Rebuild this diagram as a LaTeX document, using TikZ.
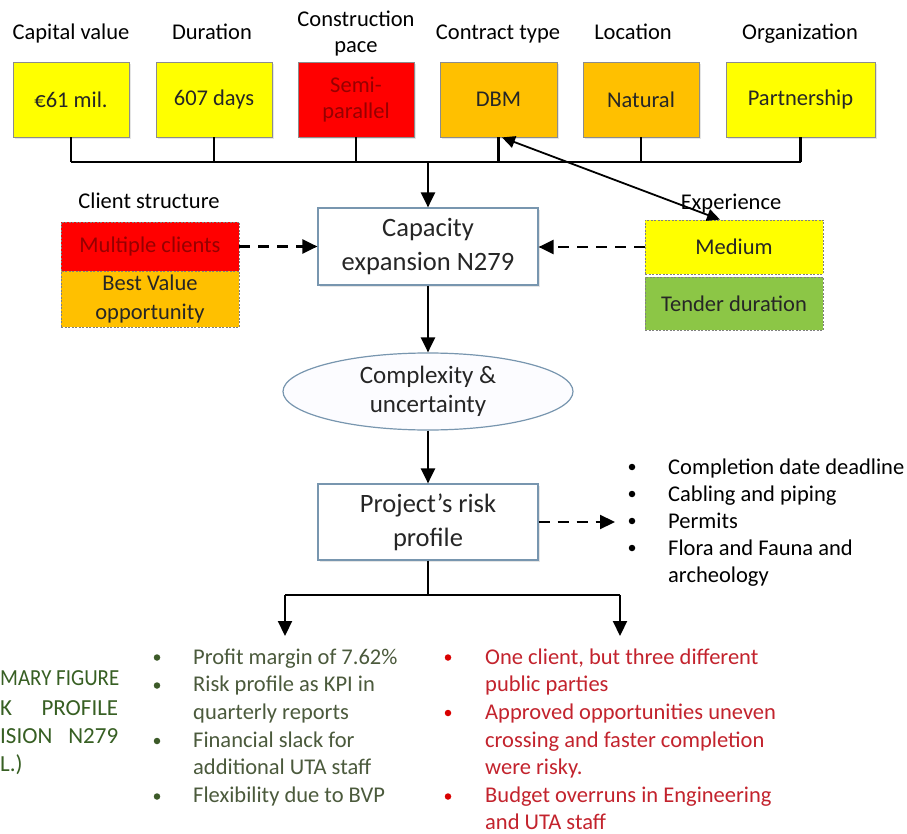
\documentclass[tikz,border=0pt]{standalone}
\usepackage{fontspec}
\setmainfont{Carlito}
\usetikzlibrary{arrows.meta,shapes.geometric,shadows}
\definecolor{cyel}{RGB}{255,255,0}
\definecolor{cred}{RGB}{255,0,0}
\definecolor{corg}{RGB}{255,192,0}
\definecolor{cgrn}{RGB}{140,198,70}
\definecolor{cblu}{RGB}{120,150,175}
\definecolor{cdred}{RGB}{150,0,0}
\definecolor{ltxt}{RGB}{75,90,60}
\definecolor{lbul}{RGB}{60,90,40}
\definecolor{rtxt}{RGB}{195,35,45}
\definecolor{ftxt}{RGB}{55,95,35}
\begin{document}
\begin{tikzpicture}[x=1pt,y=-1pt,
  shad/.style={drop shadow={shadow xshift=2pt,shadow yshift=-2pt,opacity=0.2}},
  tbox/.style={draw=black!45, line width=0.8pt, minimum width=116pt, minimum height=75pt,
    inner sep=0pt, align=center, font=\fontsize{22.5}{26}\selectfont, text=black!85, shad},
  lab/.style={font=\fontsize{22.5}{26}\selectfont, inner sep=0pt, anchor=base},
  mbox/.style={draw=cblu, line width=1.2pt, fill=white, minimum width=220pt, minimum height=77pt,
    inner sep=0pt, align=center, font=\fontsize{26.5}{34}\selectfont, text=black!85, shad},
  ell/.style={ellipse, draw=cblu, line width=1.2pt, fill=blue!1, minimum width=290pt, minimum height=77pt,
    inner sep=0pt, align=center, font=\fontsize{25}{29.5}\selectfont, text=black!85},
  dbox/.style={draw=black!50, dash pattern=on 2pt off 1.5pt, line width=0.8pt, minimum width=178pt,
    inner sep=0pt, align=center, font=\fontsize{22.5}{29}\selectfont, text=black!85},
  conn/.style={line width=2.2pt},
  arr/.style={line width=2.2pt, -{Triangle[length=15pt,width=14pt]}},
  darr/.style={arr, dash pattern=on 11pt off 8pt},
  dblarr/.style={line width=1.8pt, {Triangle[length=13pt,width=12pt]}-{Triangle[length=13pt,width=12pt]}},
  bul/.style={circle, inner sep=0pt, minimum size=6.5pt},
  ltx/.style={font=\fontsize{22.5}{27}\selectfont, inner sep=0pt, anchor=base west}
]
\fill[white] (0,0) rectangle (907,834);
\useasboundingbox (0,0) rectangle (907,834);

% top labels
\node[lab] (l1) at (71,40) {Capital value};
\node[lab] (l2) at (212,40) {Duration};
\node[lab] (l3a) at (356,27) {Construction};
\node[lab] (l3b) at (356,53) {pace};
\node[lab] (l4) at (498,40) {Contract type};
\node[lab] (l5) at (633,40) {Location};
\node[lab] (l6) at (800,40) {Organization};

% top boxes
\node[tbox, fill=cyel] (b1) at (71,99.5) {€61 mil.};
\node[tbox, fill=cyel] (b2) at (214,99.5) {607 days};
\node[tbox, fill=cred, text=cdred] (b3) at (356,99.5) {Semi-\\parallel};
\node[tbox, fill=corg, minimum width=117pt] (b4) at (498.5,99.5) {DBM};
\node[tbox, fill=corg] (b5) at (641,99.5) {Natural};
\node[tbox, fill=cyel, minimum width=149pt] (b6) at (800.5,99.5) {Partnership};

\coordinate (busL) at (71,162);
\foreach \b in {b1,b2,b3,b4,b5,b6} \draw[conn] (\b.south) -- (\b.south |- busL);
\draw[conn] (b1.south |- busL) -- (b6.south |- busL);

% capacity
\node[mbox] (cap) at (428,246.5) {Capacity\\expansion N279};
\draw[arr] (cap.north |- busL) -- (cap.north);

% client structure
\node[lab] (cs) at (149,209) {Client structure};
\node[dbox, fill=cred, text=cdred, minimum height=49pt] (mc) at (150,246.5) {Multiple clients};
\node[dbox, fill=corg, minimum height=56pt] (bv) at (150,299) {Best Value\\opportunity};
\draw[darr] (mc.east) -- (cap.west);

% experience
\node[dbox, fill=cyel, minimum height=54pt] (med) at (734,247) {Medium};
\node[dbox, fill=cgrn, minimum height=53pt] (td) at (734,303.5) {Tender duration};
\node[lab] (ex) at (731,210) {Experience};
\draw[darr] (med.west) -- (cap.east |- med.west);
\draw[dblarr] ([xshift=3.5pt]b4.south) -- ([xshift=-14pt]med.north);

% complexity
\node[ell] (cx) at (428,391.5) {Complexity \&\\uncertainty};
\draw[arr] (cap.south) -- (cx.north);

% risk profile
\node[mbox, minimum height=76pt] (rp) at (428,522) {Project’s risk\\profile};
\draw[arr] (cx.south) -- (rp.north);
\coordinate (rpt) at (615,522);
\draw[darr] (rp.east) -- (rpt);

% right list
\foreach \n/\yy in {1/467,2/494,3/521,4/548} \node[bul, fill=black] (rb\n) at (632,\yy) {};
\node[ltx] (rt1) at (668,474) {Completion date deadline};
\node[ltx] (rt2) at (668,501) {Cabling and piping};
\node[ltx] (rt3) at (668,528) {Permits};
\node[ltx] (rt4) at (668,555) {Flora and Fauna and};
\node[ltx] (rt5) at (668,582) {archeology};

% branches
\coordinate (sp) at (428,595);
\coordinate (bl) at (285,595);
\coordinate (br) at (620,595);
\coordinate (blt) at (285,636);
\coordinate (brt) at (620,636);
\draw[conn] (rp.south) -- (sp);
\draw[conn] (bl) -- (br);
\draw[arr] (bl) -- (blt);
\draw[arr] (br) -- (brt);

% green list
\foreach \n/\yy in {1/657.5,2/685.5,3/741,4/796.5} \node[bul, fill=lbul] (gb\n) at (157,\yy) {};
\node[ltx, text=ltxt] (gt1) at (193,664) {Profit margin of 7.62\%};
\node[ltx, text=ltxt] (gt2) at (193,691.7) {Risk profile as KPI in};
\node[ltx, text=ltxt] (gt3) at (193,719.4) {quarterly reports};
\node[ltx, text=ltxt] (gt4) at (193,747.1) {Financial slack for};
\node[ltx, text=ltxt] (gt5) at (193,774.8) {additional UTA staff};
\node[ltx, text=ltxt] (gt6) at (193,802.5) {Flexibility due to BVP};

% red list
\foreach \n/\yy in {1/657.5,2/713,3/796.5} \node[bul, fill=red!85!black] (kb\n) at (448,\yy) {};
\node[ltx, text=rtxt] (kt1) at (485,664) {One client, but three different};
\node[ltx, text=rtxt] (kt2) at (485,691.7) {public parties};
\node[ltx, text=rtxt] (kt3) at (485,719.4) {Approved opportunities uneven};
\node[ltx, text=rtxt] (kt4) at (485,747.1) {crossing and faster completion};
\node[ltx, text=rtxt] (kt5) at (485,774.8) {were risky.};
\node[ltx, text=rtxt] (kt6) at (485,802.5) {Budget overruns in Engineering};
\node[ltx, text=rtxt] (kt7) at (485,829) {and UTA staff};

% cut caption at left
\node[ltx, text=ftxt, font=\fontsize{23}{27}\selectfont] (c1) at (0,685) {\hbox to 118pt{\hfill\scalebox{0.91}[1]{MARY FIGURE}}};
\node[ltx, text=ftxt, font=\fontsize{23}{27}\selectfont] (c2) at (0,715) {\hbox to 118pt{K\hfill PROFILE}};
\node[ltx, text=ftxt, font=\fontsize{23}{27}\selectfont] (c3) at (0,743) {\hbox to 118pt{ISION\hfill N279}};
\node[ltx, text=ftxt, font=\fontsize{23}{27}\selectfont] (c4) at (0,771.5) {L.)};
\end{tikzpicture}
\end{document}
